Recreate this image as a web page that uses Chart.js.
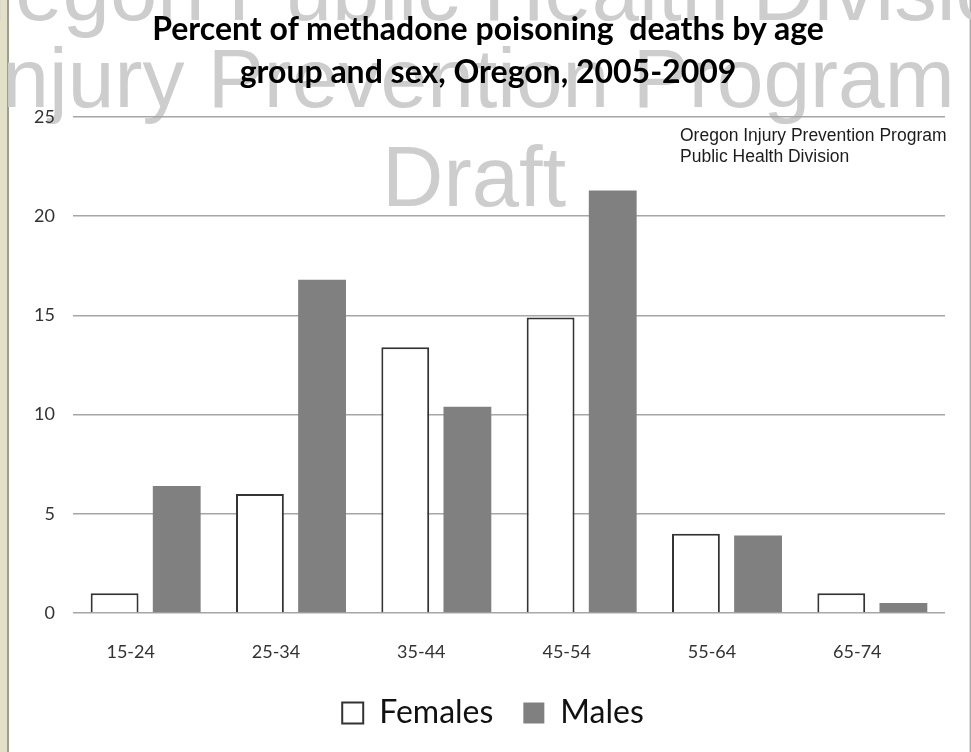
<!DOCTYPE html>
<html>
<head>
<meta charset="utf-8">
<script src="https://cdn.jsdelivr.net/npm/chart.js@4.4.1/dist/chart.umd.min.js"></script>
<style>
  body { margin: 0; background: #fff; }
  #wrap { position: relative; width: 971px; height: 752px; overflow: hidden; background: #fff; }
  .frame-l { position: absolute; left: 0; top: 0; width: 7px; height: 752px; background: #e2e0c7; border-right: 2px solid #9c9c94; }
  .frame-r { position: absolute; right: 0; top: 0; width: 1px; height: 752px; background: #a9a9a9; border-left: 1px solid #dcdcdc; }
  .wm { position: absolute; font-family: "Liberation Sans", Arial, sans-serif; font-size: 85px; line-height: 1; color: #cdcdcd; white-space: nowrap; }
  #chart { position: absolute; left: 0; top: 0; }
  .title { position: absolute; left: 0; top: 6px; width: 976px; text-align: center; font-family: Lato, "Open Sans", sans-serif; font-weight: bold; font-size: 32px; line-height: 43px; color: #000; white-space: pre; }
  .note { position: absolute; left: 680px; top: 125px; font-family: "Liberation Sans", Arial, sans-serif; font-size: 17.5px; line-height: 21px; color: #1c1c1c; }
</style>
</head>
<body>
<div id="wrap">
  <div class="frame-l"></div>
  <div class="frame-r"></div>
  <!-- watermark sits behind the (transparent) chart canvas -->
  <div class="wm" style="left:-100px; width:1171px; text-align:center; top:-52px;">Oregon Public Health Division</div>
  <div class="wm" style="left:-21px; top:36px; font-size:84px;">Injury Prevention Program</div>
  <div class="wm" style="left:382px; top:134px;">Draft</div>
  <canvas id="chart" width="971" height="752"></canvas>
  <div class="title" id="title"></div>
  <div class="note">Oregon Injury Prevention Program<br>Public Health Division</div>
</div>
<script>
  const ageGroups = ['15-24', '25-34', '35-44', '45-54', '55-64', '65-74'];
  const females = [1.0, 6.0, 13.4, 14.9, 4.0, 1.0];
  const males = [6.4, 16.8, 10.4, 21.3, 3.9, 0.5];
  const yTicks = [0, 5, 10, 15, 20, 25];

  const titleLines = ['Percent of methadone poisoning  deaths by age', 'group and sex, Oregon, 2005-2009'];
  document.getElementById('title').textContent = titleLines.join('\n');

  // Calibri-ish look
  const font = 'Lato, "Open Sans", sans-serif';

  new Chart(document.getElementById('chart').getContext('2d'), {
    type: 'bar',
    data: {
      labels: ageGroups,
      datasets: [
        {
          label: 'Females',
          data: females,
          backgroundColor: '#ffffff',
          borderColor: '#333333',
          borderWidth: 2,
          categoryPercentage: 0.855,
          barPercentage: 0.77
        },
        {
          label: 'Males',
          data: males,
          backgroundColor: '#808080',
          borderColor: '#808080',
          borderWidth: 0,
          categoryPercentage: 0.855,
          barPercentage: 0.77
        }
      ]
    },
    options: {
      responsive: false,
      animation: false,
      layout: { padding: { left: 15, right: 0, top: 117, bottom: 13 } },
      plugins: {
        legend: {
          position: 'bottom',
          labels: {
            color: '#111',
            font: { family: font, size: 32 },
            boxWidth: 21,
            boxHeight: 21,
            padding: 30
          }
        },
        tooltip: { enabled: false }
      },
      scales: {
        x: {
          grid: { display: false },
          border: { display: false },
          afterFit: (scale) => { scale.height = 54; },
          ticks: { color: '#333', font: { family: font, size: 18 }, padding: 20, labelOffset: -15 }
        },
        y: {
          min: 0,
          max: 25,
          afterBuildTicks: (axis) => { axis.ticks = yTicks.map(v => ({ value: v })); },
          afterFit: (scale) => { scale.width = 58; },
          grid: { color: '#a6a6a6', lineWidth: 1.5, drawTicks: false },
          border: { display: false },
          ticks: { color: '#333', font: { family: font, size: 18 }, padding: 18 }
        },
        // empty spacer on the right so the legend centres like the original
        spacer: {
          type: 'linear',
          position: 'right',
          grid: { display: false },
          border: { display: false },
          ticks: { display: false },
          afterFit: (scale) => { scale.width = 26; }
        }
      }
    }
  });
</script>
</body>
</html>
